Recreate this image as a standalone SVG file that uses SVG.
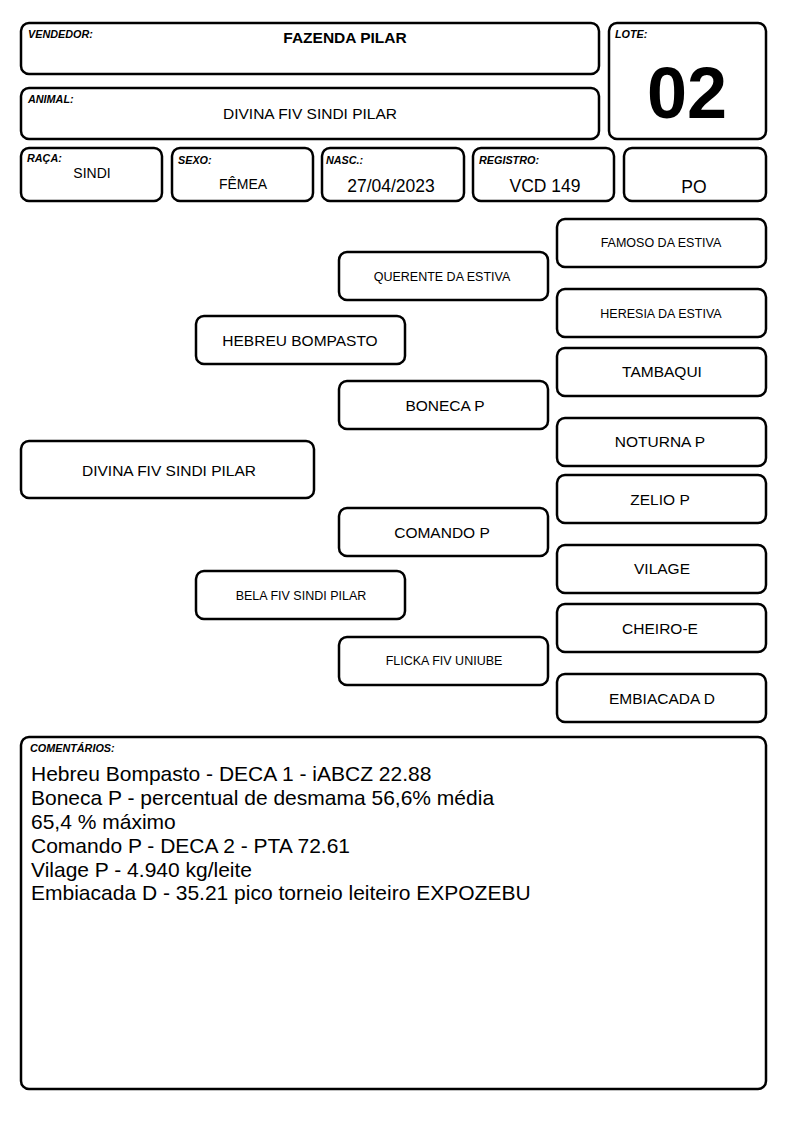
<svg xmlns="http://www.w3.org/2000/svg" width="794" height="1123" viewBox="0 0 794 1123">
<style>
.b{fill:#fff;stroke:#000;stroke-width:2.5}
text{font-family:"Liberation Sans",Arial,sans-serif;fill:#000}
.lb{font-size:10.8px;font-weight:bold;font-style:italic}
.s{font-size:12.5px;text-anchor:middle}
.m{font-size:15.5px;text-anchor:middle}
.c{font-size:21px}
</style>
<rect width="794" height="1123" fill="#fff"/>
<g id="vendedor"><rect class="b" x="21" y="23" width="578" height="51" rx="8"/><text class="lb" x="28" y="38">VENDEDOR:</text><text x="345" y="43" font-size="15.5" font-weight="bold" text-anchor="middle">FAZENDA PILAR</text></g>
<g id="animal"><rect class="b" x="21" y="88" width="578" height="51" rx="8"/><text class="lb" x="28" y="103">ANIMAL:</text><text class="m" x="310" y="119">DIVINA FIV SINDI PILAR</text></g>
<g id="lote"><rect class="b" x="609" y="23" width="157" height="116" rx="8"/><text class="lb" x="615" y="38">LOTE:</text><text x="687" y="118" font-size="72" font-weight="bold" text-anchor="middle">02</text></g>
<g id="raca"><rect class="b" x="21" y="148" width="141" height="53" rx="8"/><text class="lb" x="27" y="162">RAÇA:</text><text x="92" y="178" font-size="14" text-anchor="middle">SINDI</text></g>
<g id="sexo"><rect class="b" x="172" y="148" width="141" height="53" rx="8"/><text class="lb" x="178" y="164">SEXO:</text><text x="243" y="189" font-size="14" text-anchor="middle">FÊMEA</text></g>
<g id="nasc"><rect class="b" x="322" y="148" width="142" height="53" rx="8"/><text class="lb" x="326" y="164">NASC.:</text><text x="391" y="192" font-size="17.5" text-anchor="middle">27/04/2023</text></g>
<g id="registro"><rect class="b" x="473" y="148" width="141" height="53" rx="8"/><text class="lb" x="479" y="164">REGISTRO:</text><text x="545" y="192" font-size="17.5" text-anchor="middle">VCD 149</text></g>
<g id="po"><rect class="b" x="624" y="148" width="142" height="53" rx="8"/><text x="694" y="193" font-size="17.5" text-anchor="middle">PO</text></g>
<g id="connectors"></g>
<g id="famoso"><rect class="b" x="557" y="219" width="209" height="48" rx="8"/><text class="s" x="661" y="247">FAMOSO DA ESTIVA</text></g>
<g id="querente"><rect class="b" x="339" y="252" width="209" height="48" rx="8"/><text class="s" x="442" y="281">QUERENTE DA ESTIVA</text></g>
<g id="heresia"><rect class="b" x="557" y="289" width="209" height="48" rx="8"/><text class="s" x="661" y="318">HERESIA DA ESTIVA</text></g>
<g id="hebreu"><rect class="b" x="196" y="316" width="209" height="48" rx="8"/><text class="m" x="300" y="346">HEBREU BOMPASTO</text></g>
<g id="tambaqui"><rect class="b" x="557" y="348" width="209" height="48" rx="8"/><text class="m" x="662" y="377">TAMBAQUI</text></g>
<g id="boneca"><rect class="b" x="339" y="381" width="209" height="48" rx="8"/><text class="m" x="445" y="411">BONECA P</text></g>
<g id="noturna"><rect class="b" x="557" y="418" width="209" height="48" rx="8"/><text class="m" x="660" y="447">NOTURNA P</text></g>
<g id="divina"><rect class="b" x="21" y="441" width="293" height="57" rx="8"/><text class="m" x="169" y="476">DIVINA FIV SINDI PILAR</text></g>
<g id="zelio"><rect class="b" x="557" y="475" width="209" height="48" rx="8"/><text class="m" x="660" y="505">ZELIO P</text></g>
<g id="comando"><rect class="b" x="339" y="508" width="209" height="48" rx="8"/><text class="m" x="442" y="538">COMANDO P</text></g>
<g id="vilage"><rect class="b" x="557" y="545" width="209" height="48" rx="8"/><text class="m" x="662" y="574">VILAGE</text></g>
<g id="bela"><rect class="b" x="196" y="571" width="209" height="48" rx="8"/><text class="s" x="301" y="600">BELA FIV SINDI PILAR</text></g>
<g id="cheiro"><rect class="b" x="557" y="604" width="209" height="48" rx="8"/><text class="m" x="660" y="634">CHEIRO-E</text></g>
<g id="flicka"><rect class="b" x="339" y="637" width="209" height="48" rx="8"/><text class="s" x="444" y="665">FLICKA FIV UNIUBE</text></g>
<g id="embiacada"><rect class="b" x="557" y="674" width="209" height="48" rx="8"/><text class="m" x="662" y="704">EMBIACADA D</text></g>
<g id="comentarios"><rect class="b" x="21" y="737" width="745" height="352" rx="8"/><text class="lb" x="30" y="752">COMENTÁRIOS:</text>
<text class="c" x="31" y="781">Hebreu Bompasto - DECA 1 - iABCZ 22.88</text>
<text class="c" x="31" y="805">Boneca P - percentual de desmama 56,6% média</text>
<text class="c" x="31" y="829">65,4 % máximo</text>
<text class="c" x="31" y="853">Comando P - DECA 2 - PTA 72.61</text>
<text class="c" x="31" y="877">Vilage P - 4.940 kg/leite</text>
<text class="c" x="31" y="900">Embiacada D - 35.21 pico torneio leiteiro EXPOZEBU</text>
</g>
</svg>
